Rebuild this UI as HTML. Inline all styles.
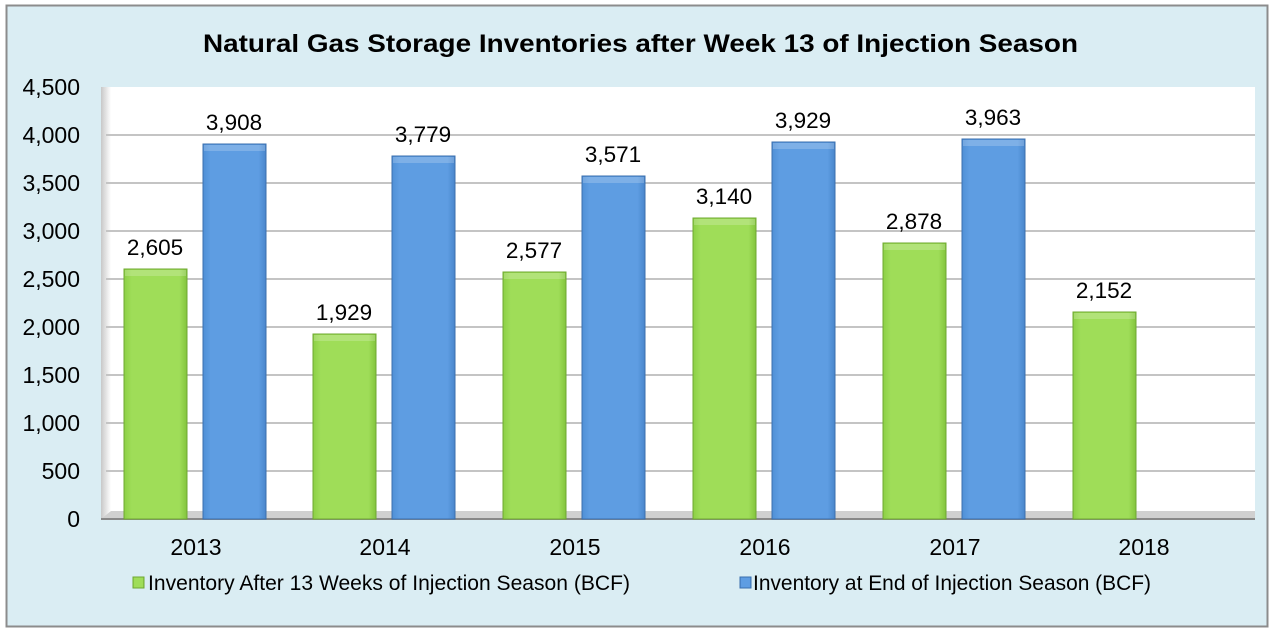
<!DOCTYPE html>
<html><head><style>
body{margin:0;width:1274px;height:634px;background:#fff;font-family:"Liberation Sans",sans-serif;}
</style></head><body>
<svg width="1274" height="634" xmlns="http://www.w3.org/2000/svg" font-family="Liberation Sans, sans-serif">
<defs>
<linearGradient id="g" x1="0" x2="1"><stop offset="0" stop-color="#8ccf45"/><stop offset="0.12" stop-color="#9fdd58"/><stop offset="0.88" stop-color="#9fdd58"/><stop offset="1" stop-color="#82c43d"/></linearGradient>
<linearGradient id="b" x1="0" x2="1"><stop offset="0" stop-color="#4f8fd6"/><stop offset="0.12" stop-color="#5e9de2"/><stop offset="0.88" stop-color="#5e9de2"/><stop offset="1" stop-color="#4a86cc"/></linearGradient>
<linearGradient id="wall" x1="0" x2="1"><stop offset="0" stop-color="#c8c8c8"/><stop offset="1" stop-color="#fff"/></linearGradient>
</defs>
<rect x="6.5" y="5.5" width="1261" height="621" fill="#daedf3" stroke="#8c8c8c" stroke-width="2"/>
<text x="203" y="52" font-size="25" font-weight="bold" textLength="875" lengthAdjust="spacingAndGlyphs">Natural Gas Storage Inventories after Week 13 of Injection Season</text>
<rect x="101" y="87" width="1154" height="432" fill="#fff"/>
<rect x="101" y="87" width="10" height="432" fill="url(#wall)"/>
<polygon points="101,519 111,511 1255,511 1255,519" fill="#d0d0d0"/>
<line x1="101" y1="519" x2="1255" y2="519" stroke="#888" stroke-width="2"/>
<g stroke="#c4c4c4" stroke-width="2">
<line x1="106" y1="471" x2="1255" y2="471"/><line x1="106" y1="423" x2="1255" y2="423"/><line x1="106" y1="375" x2="1255" y2="375"/><line x1="106" y1="327" x2="1255" y2="327"/><line x1="106" y1="279" x2="1255" y2="279"/><line x1="106" y1="231" x2="1255" y2="231"/><line x1="106" y1="183" x2="1255" y2="183"/><line x1="106" y1="135" x2="1255" y2="135"/>
</g>
<g font-size="23" text-anchor="end">
<text x="80" y="527">0</text><text x="80" y="479">500</text><text x="80" y="431">1,000</text><text x="80" y="383">1,500</text><text x="80" y="335">2,000</text><text x="80" y="287">2,500</text><text x="80" y="239">3,000</text><text x="80" y="191">3,500</text><text x="80" y="143">4,000</text><text x="80" y="95">4,500</text>
</g>
<g stroke-width="1">
<rect x="124" y="269" width="63" height="250" fill="url(#g)" stroke="#6fa832"/>
<rect x="203" y="144" width="63" height="375" fill="url(#b)" stroke="#3b6fae"/>
<rect x="313" y="334" width="63" height="185" fill="url(#g)" stroke="#6fa832"/>
<rect x="392" y="156" width="63" height="363" fill="url(#b)" stroke="#3b6fae"/>
<rect x="503" y="272" width="63" height="247" fill="url(#g)" stroke="#6fa832"/>
<rect x="582" y="176" width="63" height="343" fill="url(#b)" stroke="#3b6fae"/>
<rect x="693" y="218" width="63" height="301" fill="url(#g)" stroke="#6fa832"/>
<rect x="772" y="142" width="63" height="377" fill="url(#b)" stroke="#3b6fae"/>
<rect x="883" y="243" width="63" height="276" fill="url(#g)" stroke="#6fa832"/>
<rect x="962" y="139" width="63" height="380" fill="url(#b)" stroke="#3b6fae"/>
<rect x="1073" y="312" width="63" height="207" fill="url(#g)" stroke="#6fa832"/>
</g>
<g fill="#ffffff" opacity="0.2">
<rect x="125" y="270" width="61" height="6"/><rect x="204" y="145" width="61" height="6"/><rect x="314" y="335" width="61" height="6"/><rect x="393" y="157" width="61" height="6"/><rect x="504" y="273" width="61" height="6"/><rect x="583" y="177" width="61" height="6"/><rect x="694" y="219" width="61" height="6"/><rect x="773" y="143" width="61" height="6"/><rect x="884" y="244" width="61" height="6"/><rect x="963" y="140" width="61" height="6"/><rect x="1074" y="313" width="61" height="6"/>
</g>
<g font-size="22.5" text-anchor="middle">
<text x="155" y="255">2,605</text><text x="234" y="130">3,908</text>
<text x="344" y="320">1,929</text><text x="423" y="142">3,779</text>
<text x="534" y="258">2,577</text><text x="613" y="162">3,571</text>
<text x="724" y="204">3,140</text><text x="803" y="128">3,929</text>
<text x="914" y="229">2,878</text><text x="993" y="125">3,963</text>
<text x="1104" y="298">2,152</text>
</g>
<g font-size="23" text-anchor="middle">
<text x="196" y="555">2013</text><text x="385" y="555">2014</text><text x="575" y="555">2015</text><text x="765" y="555">2016</text><text x="955" y="555">2017</text><text x="1144" y="555">2018</text>
</g>
<rect x="133" y="577" width="11" height="11" fill="url(#g)" stroke="#6fa832"/>
<text x="148" y="590" font-size="21" textLength="482" lengthAdjust="spacingAndGlyphs">Inventory After 13 Weeks of Injection Season (BCF)</text>
<rect x="740" y="577" width="11" height="11" fill="url(#b)" stroke="#3b6fae"/>
<text x="753" y="590" font-size="21" textLength="398" lengthAdjust="spacingAndGlyphs">Inventory at End of Injection Season (BCF)</text>
</svg>
</body></html>
